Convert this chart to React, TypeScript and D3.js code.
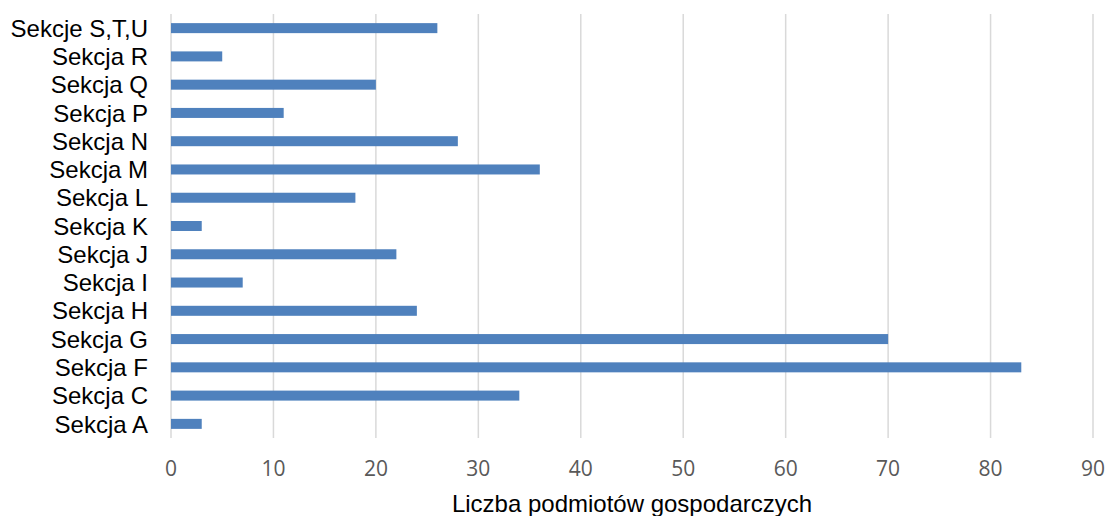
import React from "react";
import * as d3 from "d3";

const categories = ["Sekcje S,T,U", "Sekcja R", "Sekcja Q", "Sekcja P", "Sekcja N", "Sekcja M", "Sekcja L", "Sekcja K", "Sekcja J", "Sekcja I", "Sekcja H", "Sekcja G", "Sekcja F", "Sekcja C", "Sekcja A"];
const values = [26, 5, 20, 11, 28, 36, 18, 3, 22, 7, 24, 70, 83, 34, 3];
const ticks = [0, 10, 20, 30, 40, 50, 60, 70, 80, 90];
const axisTitle = "Liczba podmiotów gospodarczych";

export default function App() {
  const W = 1109, H = 516;
  const left = 171, right = 1093, top = 14, bottom = 438;
  const x = d3.scaleLinear().domain([0, 90]).range([left, right]);
  const y = d3.scaleBand<string>().domain(categories).range([top, bottom]).paddingInner(0.646).paddingOuter(0.323);
  return (
    <svg width={W} height={H} style={{ position: "absolute", left: 0, top: 0, background: "#fff" }}>
      {ticks.map((t) => (
        <g key={t}>
          <line x1={x(t)} x2={x(t)} y1={top} y2={bottom} stroke="#d9d9d9" strokeWidth={1.5} />
          <text x={x(t)} y={476} textAnchor="middle" fontFamily="'Open Sans', sans-serif" fontSize={21} fill="#595959">{t}</text>
        </g>
      ))}
      {categories.map((c, i) => (
        <g key={c}>
          <rect x={x(0)} y={y(c)!} width={x(values[i]) - x(0)} height={y.bandwidth()} fill="#4f81bd" />
          <text x={148} y={y(c)! + y.bandwidth() / 2} dy="0.36em" textAnchor="end" fontFamily="'Liberation Sans', Arial, sans-serif" fontSize={24} fill="#000">{c}</text>
        </g>
      ))}
      <text x={632} y={512} textAnchor="middle" fontFamily="'Liberation Sans', Arial, sans-serif" fontSize={24} fill="#000">{axisTitle}</text>
    </svg>
  );
}
